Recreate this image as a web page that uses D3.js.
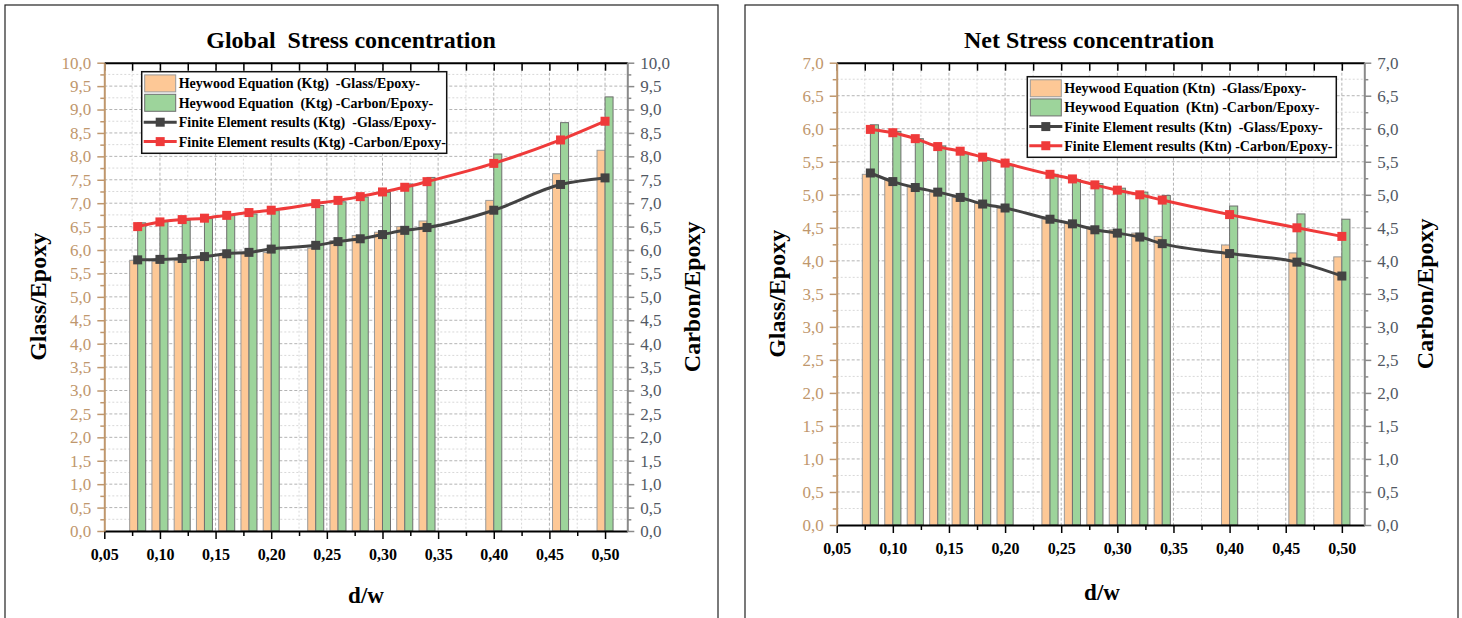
<!DOCTYPE html>
<html>
<head>
<meta charset="utf-8">
<script src="https://cdn.jsdelivr.net/npm/d3@7.9.0/dist/d3.min.js"></script>
<style>
  body { margin: 0; background: #fff; }
  svg { display: block; }
  text { font-family: "Liberation Serif", "Times New Roman", serif; white-space: pre; }
</style>
</head>
<body>
<svg id="chart" width="1462" height="618"></svg>
<script>
// d/w ratios where each pair of bars / each marker sits
const dw = [0.08, 0.10, 0.12, 0.14, 0.16, 0.18, 0.20, 0.24, 0.26, 0.28, 0.30, 0.32, 0.34, 0.40, 0.46, 0.50];

// Global stress concentration (Ktg)
const ktgHeywoodGlass  = [5.78, 5.76, 5.78, 5.82, 5.88, 5.92, 5.95, 6.04, 6.20, 6.31, 6.38, 6.50, 6.62, 7.06, 7.63, 8.13];
const ktgHeywoodCarbon = [6.58, 6.61, 6.63, 6.67, 6.74, 6.77, 6.84, 6.95, 7.03, 7.13, 7.23, 7.41, 7.55, 8.05, 8.72, 9.27];
const ktgFemGlass      = [5.79, 5.80, 5.82, 5.86, 5.92, 5.95, 6.02, 6.10, 6.18, 6.24, 6.33, 6.42, 6.48, 6.85, 7.40, 7.54];
const ktgFemCarbon     = [6.50, 6.60, 6.65, 6.68, 6.74, 6.80, 6.85, 6.99, 7.06, 7.14, 7.24, 7.34, 7.46, 7.85, 8.35, 8.75];

// Net stress concentration (Ktn)
const ktnHeywoodGlass  = [5.31, 5.22, 5.13, 5.04, 4.96, 4.87, 4.80, 4.63, 4.57, 4.52, 4.47, 4.42, 4.37, 4.24, 4.12, 4.06];
const ktnHeywoodCarbon = [6.06, 5.96, 5.85, 5.74, 5.62, 5.52, 5.44, 5.31, 5.23, 5.17, 5.10, 5.04, 4.99, 4.83, 4.71, 4.63];
const ktnFemGlass      = [5.33, 5.20, 5.11, 5.04, 4.96, 4.86, 4.80, 4.63, 4.56, 4.47, 4.42, 4.36, 4.26, 4.11, 3.98, 3.77];
const ktnFemCarbon     = [5.99, 5.94, 5.85, 5.73, 5.66, 5.57, 5.48, 5.31, 5.24, 5.15, 5.07, 5.00, 4.92, 4.70, 4.50, 4.37];

const xTicks = [0.05, 0.10, 0.15, 0.20, 0.25, 0.30, 0.35, 0.40, 0.45, 0.50];
const xMinorTicks = [0.075, 0.125, 0.175, 0.225, 0.275, 0.325, 0.375, 0.425, 0.475, 0.525];

const ktgLegend = [
  'Heywood Equation (Ktg)  -Glass/Epoxy-',
  'Heywood Equation  (Ktg) -Carbon/Epoxy-',
  'Finite Element results (Ktg)  -Glass/Epoxy-',
  'Finite Element results (Ktg) -Carbon/Epoxy-',
];
const ktnLegend = [
  'Heywood Equation (Ktn)  -Glass/Epoxy-',
  'Heywood Equation  (Ktn) -Carbon/Epoxy-',
  'Finite Element results (Ktn)  -Glass/Epoxy-',
  'Finite Element results (Ktn) -Carbon/Epoxy-',
];

const COLORS = {
  glassBar: '#fdc896',
  carbonBar: '#9dd49b',
  glassLine: '#434343',
  carbonLine: '#ef3a3a',
  leftAxis: '#bf976d',
  rightAxis: '#8a8a8a',
  rightLabel: '#525863',
};

const svg = d3.select('#chart');

const comma = (v, digits) => v.toFixed(digits).replace('.', ',');

function drawPanel(cfg) {
  const g = svg.append('g');

  // panel frame
  g.append('rect')
    .attr('x', cfg.frame[0]).attr('y', cfg.frame[1])
    .attr('width', cfg.frame[2]).attr('height', cfg.frame[3])
    .attr('fill', 'none').attr('stroke', '#222').attr('stroke-width', 1.2);

  const x = d3.scaleLinear().domain([0.05, 0.52]).range([cfg.left, cfg.right]);
  const y = d3.scaleLinear().domain([0, cfg.yMax]).range([cfg.bottom, cfg.top]);

  const yMajor = d3.range(0, cfg.yMax * 2 + 1).map((i) => i / 2);
  const yMinor = d3.range(0, cfg.yMax * 2).map((i) => i / 2 + 0.25);
  const xMinor = xMinorTicks.filter((d) => d < 0.52);

  // grid
  const grid = g.append('g');
  grid.selectAll('.gy-minor').data(yMinor).join('line')
    .attr('x1', cfg.left).attr('x2', cfg.right)
    .attr('y1', (d) => y(d)).attr('y2', (d) => y(d))
    .attr('stroke', '#d8d8d8').attr('stroke-dasharray', '2,2');
  grid.selectAll('.gy-major').data(yMajor.slice(1, -1)).join('line')
    .attr('x1', cfg.left).attr('x2', cfg.right)
    .attr('y1', (d) => y(d)).attr('y2', (d) => y(d))
    .attr('stroke', '#b4b4b4').attr('stroke-dasharray', '3,2');
  grid.selectAll('.gx-minor').data(xMinor).join('line')
    .attr('x1', (d) => x(d)).attr('x2', (d) => x(d))
    .attr('y1', cfg.top).attr('y2', cfg.bottom)
    .attr('stroke', '#d8d8d8').attr('stroke-dasharray', '2,2');
  grid.selectAll('.gx-major').data(xTicks.slice(1)).join('line')
    .attr('x1', (d) => x(d)).attr('x2', (d) => x(d))
    .attr('y1', cfg.top).attr('y2', cfg.bottom)
    .attr('stroke', '#b4b4b4').attr('stroke-dasharray', '3,2');

  // bars
  const barW = x(0.0572) - x(0.05);
  const rows = dw.map((d, i) => ({
    dw: d, glass: cfg.heyGlass[i], carbon: cfg.heyCarbon[i],
    femGlass: cfg.femGlass[i], femCarbon: cfg.femCarbon[i],
  }));

  g.append('g').selectAll('rect').data(rows).join('rect')
    .attr('x', (d) => x(d.dw) - barW)
    .attr('y', (d) => y(d.glass))
    .attr('width', barW)
    .attr('height', (d) => y(0) - y(d.glass))
    .attr('fill', COLORS.glassBar).attr('stroke', '#9a9a9a').attr('stroke-width', 1);

  g.append('g').selectAll('rect').data(rows).join('rect')
    .attr('x', (d) => x(d.dw))
    .attr('y', (d) => y(d.carbon))
    .attr('width', barW)
    .attr('height', (d) => y(0) - y(d.carbon))
    .attr('fill', COLORS.carbonBar).attr('stroke', '#6f6f6f').attr('stroke-width', 1);

  // FEM lines
  [['femGlass', COLORS.glassLine], ['femCarbon', COLORS.carbonLine]].forEach(([key, color]) => {
    const line = d3.line().x((d) => x(d.dw)).y((d) => y(d[key])).curve(d3.curveMonotoneX);
    g.append('path').datum(rows)
      .attr('d', line).attr('fill', 'none')
      .attr('stroke', color).attr('stroke-width', 3);
    g.append('g').selectAll('rect').data(rows).join('rect')
      .attr('x', (d) => x(d.dw) - 4.5).attr('y', (d) => y(d[key]) - 4.5)
      .attr('width', 9).attr('height', 9).attr('fill', color);
  });

  // axes
  const top = g.append('g').attr('transform', `translate(0,${cfg.top})`)
    .call(d3.axisBottom(x).tickValues([...xTicks, ...xMinor])
      .tickSize(8).tickSizeOuter(0).tickFormat(''));
  top.select('.domain').attr('stroke', '#000').attr('stroke-width', 2);
  top.selectAll('.tick line').attr('stroke', '#000').attr('stroke-width', 1.5);

  const bottomMinor = g.append('g').attr('transform', `translate(0,${cfg.bottom})`)
    .call(d3.axisBottom(x).tickValues(xMinor).tickSize(5).tickFormat(''));
  bottomMinor.select('.domain').remove();
  bottomMinor.selectAll('.tick line').attr('stroke', '#000').attr('stroke-width', 1.5);

  const bottom = g.append('g').attr('transform', `translate(0,${cfg.bottom})`)
    .call(d3.axisBottom(x).tickValues(xTicks).tickSize(8).tickSizeOuter(0).tickPadding(10)
      .tickFormat((d) => comma(d, 2)));
  bottom.select('.domain').attr('stroke', '#000').attr('stroke-width', 2);
  bottom.selectAll('.tick line').attr('stroke', '#000').attr('stroke-width', 1.5);
  bottom.selectAll('text')
    .attr('fill', '#000').attr('font-size', 16).attr('font-weight', 'bold')
    .attr('font-family', '"Liberation Serif", serif');

  const sideAxis = (gen, side, color, labelColor) => {
    const major = g.append('g').attr('transform', `translate(${side},0)`)
      .call(gen(y).tickValues(yMajor).tickSize(7).tickSizeOuter(0).tickPadding(6)
        .tickFormat((d) => comma(d, 1)));
    major.select('.domain').attr('stroke', color).attr('stroke-width', 2);
    major.selectAll('.tick line').attr('stroke', color).attr('stroke-width', 1.5);
    major.selectAll('text')
      .attr('fill', labelColor).attr('font-size', 17)
      .attr('font-family', '"Liberation Serif", serif');
    const minor = g.append('g').attr('transform', `translate(${side},0)`)
      .call(gen(y).tickValues(yMinor).tickSize(4).tickFormat(''));
    minor.select('.domain').remove();
    minor.selectAll('.tick line').attr('stroke', color).attr('stroke-width', 1.5);
  };
  sideAxis(d3.axisLeft, cfg.left, COLORS.leftAxis, COLORS.leftAxis);
  sideAxis(d3.axisRight, cfg.right, COLORS.rightAxis, COLORS.rightLabel);

  // titles
  g.append('text')
    .attr('x', cfg.titleX).attr('y', 48)
    .attr('text-anchor', 'middle').attr('font-size', 24).attr('font-weight', 'bold')
    .text(cfg.title);

  g.append('text')
    .attr('x', cfg.xLabelX).attr('y', cfg.xLabelY)
    .attr('text-anchor', 'middle').attr('font-size', 23).attr('font-weight', 'bold')
    .text('d/w');

  [[cfg.leftTitleX, 'Glass/Epoxy'], [cfg.rightTitleX, 'Carbon/Epoxy']].forEach(([tx, label]) => {
    const cy = (cfg.top + cfg.bottom) / 2;
    g.append('text')
      .attr('transform', `translate(${tx},${cy}) rotate(-90)`)
      .attr('text-anchor', 'middle').attr('dominant-baseline', 'central')
      .attr('font-size', 24).attr('font-weight', 'bold')
      .text(label);
  });

  // legend
  const lg = g.append('g');
  const [lx, ly, lw, lh] = cfg.legend;
  lg.append('rect')
    .attr('x', lx).attr('y', ly).attr('width', lw).attr('height', lh)
    .attr('fill', '#fff').attr('stroke', '#111').attr('stroke-width', 1.5);

  const rowH = (lh - 4) / 4;
  const kinds = [
    { type: 'bar', fill: COLORS.glassBar, stroke: '#9a9a9a' },
    { type: 'bar', fill: COLORS.carbonBar, stroke: '#6f6f6f' },
    { type: 'line', color: COLORS.glassLine },
    { type: 'line', color: COLORS.carbonLine },
  ];
  cfg.legendLabels.forEach((label, i) => {
    const cy = ly + 2 + rowH * (i + 0.5);
    const k = kinds[i];
    if (k.type === 'bar') {
      lg.append('rect')
        .attr('x', lx + 3).attr('y', cy - 8.5).attr('width', 31).attr('height', 17)
        .attr('fill', k.fill).attr('stroke', k.stroke);
    } else {
      lg.append('line')
        .attr('x1', lx + 2).attr('x2', lx + 35).attr('y1', cy).attr('y2', cy)
        .attr('stroke', k.color).attr('stroke-width', 3);
      lg.append('rect')
        .attr('x', lx + 18.5 - 4.5).attr('y', cy - 4.5).attr('width', 9).attr('height', 9)
        .attr('fill', k.color);
    }
    lg.append('text')
      .attr('x', lx + 37).attr('y', cy + 5)
      .attr('font-size', 14).attr('font-weight', 'bold')
      .text(label);
  });
}

drawPanel({
  frame: [5, 5, 713, 640],
  left: 104.3, right: 627.3, top: 62.7, bottom: 531,
  yMax: 10,
  heyGlass: ktgHeywoodGlass, heyCarbon: ktgHeywoodCarbon,
  femGlass: ktgFemGlass, femCarbon: ktgFemCarbon,
  title: 'Global  Stress concentration', titleX: 351,
  xLabelX: 366, xLabelY: 603,
  leftTitleX: 38, rightTitleX: 692,
  legend: [141.7, 71.7, 305, 81.6],
  legendLabels: ktgLegend,
});

drawPanel({
  frame: [745, 5, 713, 640],
  left: 836.7, right: 1364.3, top: 62.7, bottom: 525,
  yMax: 7,
  heyGlass: ktnHeywoodGlass, heyCarbon: ktnHeywoodCarbon,
  femGlass: ktnFemGlass, femCarbon: ktnFemCarbon,
  title: 'Net Stress concentration', titleX: 1089,
  xLabelX: 1102, xLabelY: 600,
  leftTitleX: 777, rightTitleX: 1425,
  legend: [1027.3, 76.7, 309, 80.6],
  legendLabels: ktnLegend,
});
</script>
</body>
</html>
